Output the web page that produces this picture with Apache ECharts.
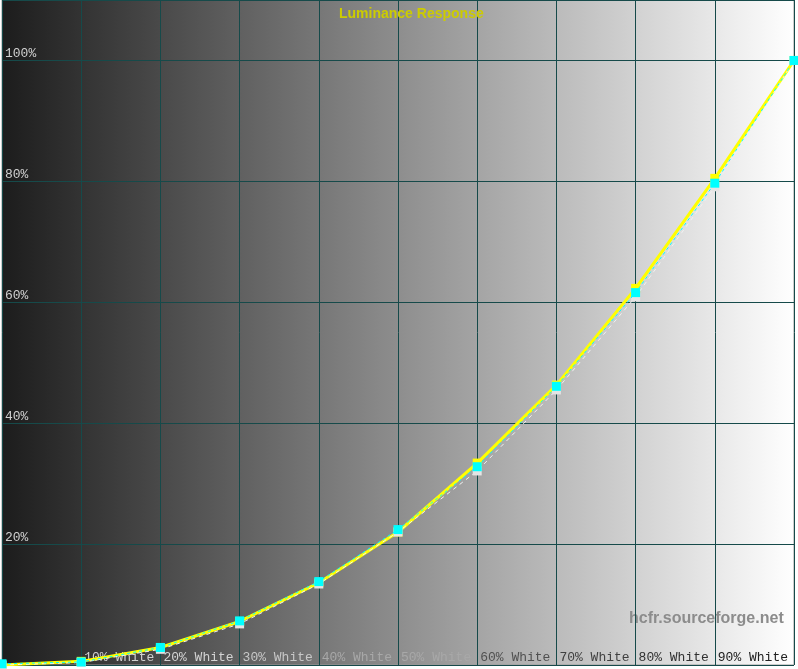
<!DOCTYPE html>
<html style="height: 100%" lang="en">
<head>
    <meta charset="utf-8">
    <script type="text/javascript" src="https://cdn.jsdelivr.net/npm/echarts@6/dist/echarts.min.js"></script>
    <title>Luminance Response</title>
</head>
<body style="height: 100%; margin: 0; background: #ffffff">
<div id="container" style="width: 798px; height: 669px"></div>
</body>
<script type="text/javascript">
    // stimulus level (% white) and luminance (% of peak)
    let levels = [0, 10, 20, 30, 40, 50, 60, 70, 80, 90, 100];
    let reference = [0, 0.6, 2.9, 7.2, 13.6, 22.0, 33.4, 46.3, 62.3, 80.5, 100];
    let measured = [0.2, 0.5, 2.9, 7.3, 13.8, 22.4, 32.8, 46.1, 61.6, 79.7, 100];
    let secondary = [0, 0.4, 2.6, 6.8, 13.4, 22.0, 32.1, 45.5, 60.9, 79.1, 100];
    let xTicks = [10, 20, 30, 40, 50, 60, 70, 80, 90];
    let yTicks = [20, 40, 60, 80, 100];

    // label tints (dark text on the light side)
    let xLabelColors = ['#d0d0d0', '#d4d4d4', '#c8c8c8', '#a8a8a8', '#a8a8a8',
        '#505050', '#404040', '#303030', '#202020'];

    let dom = document.getElementById("container");
    let myChart = echarts.init(dom);
    let mono = '"Liberation Mono", "DejaVu Sans Mono", monospace';

    let rich = {};
    xLabelColors.forEach(function (c, i) {
        rich['c' + i] = {color: c, fontFamily: mono, fontSize: 13};
    });

    function pairs(values) {
        return levels.map(function (x, i) { return [x, values[i]]; });
    }

    let option = {
        animation: false,
        backgroundColor: '#ffffff',
        title: {
            text: 'Luminance Response',
            left: 334,
            top: 2,
            textStyle: {
                color: '#cccc00',
                fontSize: 14,
                fontWeight: 'bold',
                fontFamily: '"Liberation Sans", Arial, sans-serif'
            }
        },
        grid: {
            left: 2,
            right: 4,
            top: 0,
            bottom: 4,
            show: true,
            borderColor: '#9a9a9a',
            borderWidth: 1,
            backgroundColor: {
                type: 'linear', x: 0, y: 0, x2: 1, y2: 0,
                colorStops: [
                    {offset: 0, color: '#1c1c1c'},
                    {offset: 1, color: '#ffffff'}
                ]
            }
        },
        xAxis: {
            type: 'value',
            min: 0,
            max: 100,
            interval: 10,
            axisLine: {show: false},
            axisTick: {show: false},
            splitLine: {lineStyle: {color: '#164a4a', width: 1}},
            axisLabel: {
                inside: true,
                margin: 1,
                align: 'left',
                verticalAlign: 'bottom',
                padding: [0, 0, 0, 3],
                showMinLabel: false,
                showMaxLabel: false,
                formatter: function (v) {
                    let i = xTicks.indexOf(v);
                    if (i < 0) return '';
                    return '{c' + i + '|' + v + '% White}';
                },
                rich: rich
            }
        },
        yAxis: {
            type: 'value',
            min: 0,
            max: 110,
            interval: 20,
            axisLine: {show: false},
            axisTick: {show: false},
            splitLine: {lineStyle: {color: '#164a4a', width: 1}},
            axisLabel: {
                inside: true,
                margin: 3,
                verticalAlign: 'bottom',
                color: '#d0d0d0',
                fontFamily: mono,
                fontSize: 13,
                showMinLabel: false,
                showMaxLabel: false,
                formatter: function (v) {
                    return yTicks.indexOf(v) >= 0 ? v + '%' : '';
                }
            }
        },
        series: [
            {
                name: 'Reference',
                type: 'line',
                data: pairs(reference),
                z: 2,
                symbol: 'rect',
                symbolSize: 9,
                showAllSymbol: true,
                itemStyle: {color: '#ffff00'},
                lineStyle: {color: '#ffff00', width: 3}
            },
            {
                name: 'Secondary',
                type: 'line',
                data: pairs(secondary),
                z: 3,
                symbol: 'rect',
                symbolSize: 9,
                itemStyle: {color: '#e4e4e4'},
                lineStyle: {color: '#f0f0f0', width: 1, type: [4, 4]}
            },
            {
                name: 'Measured',
                type: 'line',
                data: pairs(measured),
                z: 4,
                symbol: 'rect',
                symbolSize: 9,
                itemStyle: {color: '#00ffff'},
                lineStyle: {color: '#00ffff', width: 1, type: [3, 3]}
            }
        ],
        graphic: [
            {
                type: 'text',
                left: 629,
                top: 611,
                style: {
                    text: 'hcfr.sourceforge.net',
                    fill: '#8c8c8c',
                    font: 'bold 16px "Liberation Sans", Arial, sans-serif'
                }
            }
        ]
    };
    myChart.setOption(option);
</script>
</html>
